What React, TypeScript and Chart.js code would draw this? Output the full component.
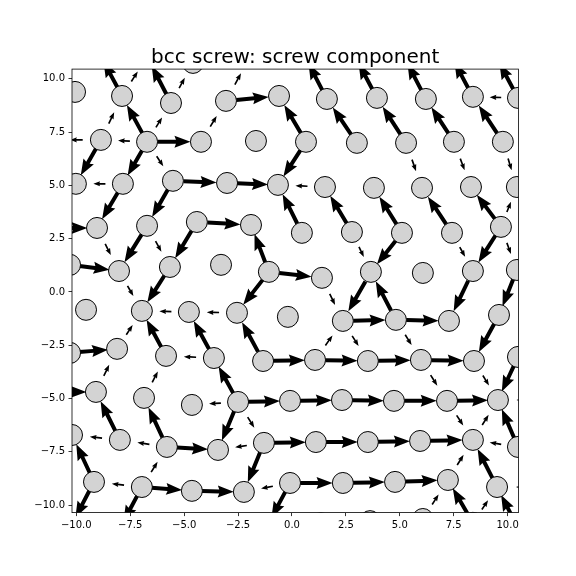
import React, { useEffect, useRef } from "react";
import { Chart, registerables } from "chart.js";

Chart.register(...registerables);

const titleText = "bcc screw: screw component";
const xTicks = [-10, -7.5, -5, -2.5, 0, 2.5, 5, 7.5, 10];
const yTicks = [-10, -7.5, -5, -2.5, 0, 2.5, 5, 7.5, 10];
const xLimits = [-10.2, 10.5];
const yLimits = [-10.35, 10.45];

// atoms (projected columns), data units
const atomIds = [
  "Za", "Zb", "Z2", "Zc", "Zd", "Ze", "Zf", "Zg", "Zh",
  "A0", "A1", "A2", "A3", "A4", "A5", "A6", "A7", "A8", "A9",
  "Bm", "B0", "B1", "B2", "B3", "B4", "B5", "B6", "B7", "B8",
  "C0", "C1", "C2", "C3", "C4", "C5", "C6", "C7", "C8", "C9",
  "Dm", "D0", "D1", "D2", "D3", "D4", "D5", "D6", "D7", "D8",
  "E0", "E1", "E2", "E3", "E4", "E5", "E6", "E7", "E8", "E9",
  "F0", "F1", "F2", "F3", "F4", "F5", "F6", "F7", "F8",
  "G0", "G1", "G2", "G3", "G4", "G5", "G6", "G7", "G8", "G9",
  "Hm", "H0", "H1", "H2", "H3", "H4", "H5", "H6", "H7", "H8", "Hp",
  "I0", "I1", "I2", "I3", "I4", "I5", "I6", "I7", "I8", "I9",
  "J0", "J1", "J2", "J3", "J4", "J5", "J6", "J7", "J8", "Jp",
  "K0", "K1", "K4", "K5", "K6", "K7", "K8", "K9",
];
const atomX = [
  -8.95, -6.72, -4.59, -1.95, 0.56, 2.88, 5.15, 7.33, 9.41,
  -10.06, -7.88, -5.61, -3.06, -0.6, 1.62, 3.94, 6.21, 8.39, 10.48,
  -11.13, -8.86, -6.72, -4.22, -1.67, 0.65, 3.01, 5.29, 7.51, 9.78,
  -10.02, -7.84, -5.52, -3.01, -0.65, 1.53, 3.8, 6.03, 8.3, 10.43,
  -11.36, -9.04, -6.72, -4.41, -1.9, 0.46, 2.78, 5.1, 7.42, 9.69,
  -10.29, -8.02, -5.66, -3.29, -1.07, 1.39, 3.66, 6.07, 8.39, 10.43,
  -9.55, -6.96, -4.78, -2.55, -0.19, 2.36, 4.82, 7.28, 9.6,
  -10.29, -8.11, -5.84, -3.62, -1.34, 1.07, 3.52, 5.98, 8.44, 10.48,
  -11.36, -9.09, -6.86, -4.64, -2.5, -0.09, 2.32, 4.73, 7.19, 9.55, 11.87,
  -10.2, -7.98, -5.8, -3.43, -1.3, 1.11, 3.52, 5.94, 8.39, 10.48,
  -9.18, -6.96, -4.64, -2.23, -0.09, 2.36, 4.78, 7.23, 9.51, 11.87,
  -10.25, -8.02, -1.16, 1.34, 3.62, 6.07, 8.39, 10.48,
];
const atomY = [
  11.21, 11.02, 10.74, 11.02, 11.12, 11.12, 11.12, 11.16, 11.12,
  9.38, 9.19, 8.86, 8.96, 9.19, 9.05, 9.1, 9.05, 9.15, 9.1,
  7.13, 7.13, 7.04, 7.04, 7.08, 7.04, 6.99, 6.99, 7.04, 7.04,
  5.07, 5.07, 5.21, 5.11, 5.02, 4.92, 4.88, 4.88, 4.92, 4.92,
  3.0, 3.0, 3.1, 3.28, 3.14, 2.77, 2.81, 2.77, 2.77, 3.05,
  1.27, 0.98, 1.17, 1.27, 0.94, 0.66, 0.94, 0.89, 0.98, 1.03,
  -0.84, -0.89, -0.94, -0.98, -1.17, -1.36, -1.31, -1.36, -1.08,
  -2.86, -2.67, -3.0, -3.1, -3.24, -3.19, -3.24, -3.19, -3.24, -3.05,
  -4.69, -4.69, -4.97, -5.3, -5.16, -5.11, -5.07, -5.11, -5.11, -5.07, -5.07,
  -6.71, -6.94, -7.27, -7.41, -7.08, -7.04, -7.04, -6.99, -6.94, -7.27,
  -8.91, -9.15, -9.33, -9.38, -8.96, -8.96, -8.91, -8.82, -9.15, -9.15,
  -10.98, -11.16, -10.98, -10.85, -10.75, -10.65, -10.83, -11.07,
];

// differential displacement arrows between neighbour pairs
const arrowFrom = [
  "A1", "A1", "A2", "A2", "A3", "A3", "A5", "A6", "A7", "A8", "A9", "A9",
  "B0", "B0", "B1", "B1", "B1", "B1", "B1", "B1", "B0", "B2", "B4", "B5", "B6", "B7", "B8", "B4", "B6", "B7", "B8",
  "C1", "C1", "C2", "C3", "C2", "C5",
  "Dm", "D0", "D1", "D1", "D2", "D2", "D4", "D5", "D6", "D7", "D8", "D6", "D8", "D5", "D7", "D8", "D8",
  "E0", "E4", "E4", "E1", "E2", "E4", "E5", "E6", "F6", "E8", "E9",
  "F2", "F3", "F5", "F6", "F8", "F5", "F6",
  "G0", "G1", "G2", "G3", "G3", "G4", "G4", "G5", "G5", "G6", "G7", "G7", "G8", "G9",
  "Hm", "H0", "H1", "H3", "H3", "H3", "H3", "H3", "H4", "H5", "H6", "H7", "H7", "Hp",
  "I1", "I1", "I2", "I2", "I2", "I4", "I4", "I4", "I5", "I6", "I7", "I8", "I9", "I9",
  "J0", "J0", "J1", "J1", "J1", "J1", "J2", "J4", "J4", "J4", "J5", "J6", "J7", "J8", "K7", "K8", "K8", "K9", "Jp",
];
const arrowTo = [
  "Za", "Zb", "Zb", "Z2", "Zc", "A4", "Zd", "Ze", "Zf", "Zg", "Zh", "A8",
  "Bm", "A1", "B0", "A1", "A2", "B2", "C1", "C2", "C0", "A3", "A4", "A5", "A6", "A7", "A8", "C4", "C7", "C8", "C9",
  "C0", "D0", "C3", "C4", "D1", "C4",
  "D0", "E1", "E1", "E2", "E2", "D3", "C4", "C5", "C6", "C7", "C8", "E6", "E8", "E6", "E8", "E9", "C9",
  "E1", "D3", "E5", "F1", "F1", "F3", "F5", "F5", "E6", "F7", "F8",
  "F1", "F2", "F6", "F7", "G8", "G6", "G7",
  "G1", "F1", "F1", "G2", "F2", "F3", "G5", "F5", "G6", "G7", "G8", "H7", "H8", "H8",
  "H0", "G1", "G2", "H2", "G3", "I3", "H4", "I4", "H5", "H6", "H7", "H8", "I8", "H8",
  "I0", "H0", "I1", "H1", "I3", "I3", "J3", "I5", "I6", "I7", "I8", "H8", "H8", "I8",
  "I0", "K0", "J0", "K1", "I2", "J2", "J3", "J3", "K4", "J5", "J6", "J7", "I8", "I8", "J7", "J7", "J8", "J8", "J8",
];
const arrowMag = [
  1, 0.42, 1, 0.42, 0.42, 1, 1, 1, 1, 1, 1, 0.42,
  0.42, 0.42, 0.42, 1, 0.42, 1, 1, 0.42, 1, 0.42, 1, 1, 1, 1, 1, 1, 0.42, 0.42, 0.42,
  0.42, 1, 1, 1, 1, 0.42,
  1, 0.42, 1, 0.42, 1, 1, 1, 1, 1, 1, 1, 1, 1, 0.42, 0.42, 0.42, 0.42,
  1, 1, 1, 0.42, 1, 1, 0.42, 1, 1, 1, 1,
  0.42, 0.42, 1, 1, 1, 0.42, 0.42,
  1, 0.42, 1, 0.42, 1, 1, 1, 0.42, 1, 1, 1, 0.42, 0.42, 1,
  1, 0.42, 0.42, 0.42, 1, 1, 1, 0.42, 1, 1, 1, 1, 0.42, 0.42,
  0.42, 1, 0.42, 1, 1, 0.42, 1, 1, 1, 1, 1, 0.42, 1, 0.42,
  1, 1, 0.42, 1, 0.42, 1, 1, 0.42, 1, 1, 1, 1, 0.42, 1, 0.42, 1, 0.42, 1, 0.42,
];

const ARROW_SCALE = 0.61;

function fmtTick(v: number): string {
  const s = Math.abs(v).toFixed(1);
  return v < 0 ? "\u2212" + s : s;
}

function drawArrow(ctx: CanvasRenderingContext2D, x0: number, y0: number, x1: number, y1: number, k: number) {
  const dx = x1 - x0;
  const dy = y1 - y0;
  const L = Math.hypot(dx, dy);
  if (L < 0.5) return;
  const ux = dx / L;
  const uy = dy / L;
  const nx = -uy;
  const ny = ux;
  const w = Math.max(1.1, 4 * k) / 2;
  const hw = (12 * k) / 2;
  let hl = 16 * k;
  let hal = 14.5 * k;
  if (hl > L * 0.9) {
    hl = L * 0.9;
    hal = hl * 0.9;
  }
  const pts: [number, number][] = [
    [0, w],
    [L - hal, w],
    [L - hl, hw],
    [L, 0],
    [L - hl, -hw],
    [L - hal, -w],
    [0, -w],
  ];
  ctx.beginPath();
  pts.forEach(([a, b], i) => {
    const px = x0 + ux * a + nx * b;
    const py = y0 + uy * a + ny * b;
    if (i === 0) ctx.moveTo(px, py);
    else ctx.lineTo(px, py);
  });
  ctx.closePath();
  ctx.fill();
}

const arrowPlugin = {
  id: "ddArrows",
  beforeDatasetsDraw(chart: any) {
    const { ctx, chartArea, scales } = chart;
    const xs = scales.x;
    const ys = scales.y;
    ctx.save();
    ctx.beginPath();
    ctx.rect(chartArea.left, chartArea.top, chartArea.right - chartArea.left, chartArea.bottom - chartArea.top);
    ctx.clip();
    ctx.fillStyle = "#000000";
    for (let i = 0; i < arrowFrom.length; i++) {
      const a = atomIds.indexOf(arrowFrom[i]);
      const b = atomIds.indexOf(arrowTo[i]);
      if (a < 0 || b < 0) continue;
      const p1x = xs.getPixelForValue(atomX[a]);
      const p1y = ys.getPixelForValue(atomY[a]);
      const p2x = xs.getPixelForValue(atomX[b]);
      const p2y = ys.getPixelForValue(atomY[b]);
      const mx = (p1x + p2x) / 2;
      const my = (p1y + p2y) / 2;
      const s = arrowMag[i] * ARROW_SCALE;
      const vx = (p2x - p1x) * s;
      const vy = (p2y - p1y) * s;
      drawArrow(ctx, mx - vx / 2, my - vy / 2, mx + vx / 2, my + vy / 2, Math.min(1, Math.abs(arrowMag[i])));
    }
    ctx.restore();
  },
  afterDraw(chart: any) {
    const { ctx, chartArea } = chart;
    ctx.save();
    ctx.strokeStyle = "#000000";
    ctx.lineWidth = 0.8;
    ctx.strokeRect(chartArea.left, chartArea.top, chartArea.right - chartArea.left, chartArea.bottom - chartArea.top);
    ctx.fillStyle = "#000000";
    ctx.font = '20px "DejaVu Sans"';
    ctx.textAlign = "center";
    ctx.textBaseline = "alphabetic";
    ctx.fillText(titleText, (chartArea.left + chartArea.right) / 2, chartArea.top - 6);
    ctx.restore();
  },
};

export default function App() {
  const canvasRef = useRef<HTMLCanvasElement | null>(null);

  useEffect(() => {
    const canvas = canvasRef.current;
    if (!canvas) return;
    const points = atomX.map((x, i) => ({ x, y: atomY[i] }));
    const tickFont = { family: '"DejaVu Sans"', size: 10 };
    const chart = new Chart(canvas, {
      type: "scatter",
      data: {
        datasets: [
          {
            data: points,
            pointRadius: 10.5,
            pointHoverRadius: 10.5,
            pointBackgroundColor: "#d3d3d3",
            pointBorderColor: "#000000",
            pointBorderWidth: 1,
            pointHoverBorderWidth: 1,
            showLine: false,
            clip: 0,
          } as any,
        ],
      },
      options: {
        animation: false,
        responsive: false,
        events: [],
        layout: { padding: { left: 0, top: 69.1, right: 57.6, bottom: 0 } },
        plugins: {
          legend: { display: false },
          tooltip: { enabled: false },
          title: { display: false },
        },
        scales: {
          x: {
            type: "linear",
            min: xLimits[0],
            max: xLimits[1],
            afterBuildTicks: (scale: any) => {
              scale.ticks = xTicks.map((v) => ({ value: v }));
            },
            afterFit: (scale: any) => {
              scale.height = 63.4;
            },
            grid: {
              drawOnChartArea: false,
              drawTicks: true,
              tickLength: 3.5,
              tickWidth: 0.8,
              tickColor: "#000000",
            },
            border: { display: false },
            ticks: {
              autoSkip: false,
              maxRotation: 0,
              padding: 3.5,
              color: "#000000",
              font: tickFont,
              callback: (v: any) => fmtTick(Number(v)),
            },
          },
          y: {
            type: "linear",
            min: yLimits[0],
            max: yLimits[1],
            afterBuildTicks: (scale: any) => {
              scale.ticks = yTicks.map((v) => ({ value: v }));
            },
            afterFit: (scale: any) => {
              scale.width = 72;
            },
            grid: {
              drawOnChartArea: false,
              drawTicks: true,
              tickLength: 3.5,
              tickWidth: 0.8,
              tickColor: "#000000",
            },
            border: { display: false },
            ticks: {
              autoSkip: false,
              padding: 3.5,
              color: "#000000",
              font: tickFont,
              callback: (v: any) => fmtTick(Number(v)),
            },
          },
        },
      },
      plugins: [arrowPlugin],
    });
    return () => chart.destroy();
  }, []);

  return (
    <div style={{ position: "fixed", left: 0, top: 0, width: 576, height: 576, background: "#ffffff" }}>
      <canvas ref={canvasRef} width={576} height={576} style={{ width: 576, height: 576, display: "block" }} />
    </div>
  );
}
